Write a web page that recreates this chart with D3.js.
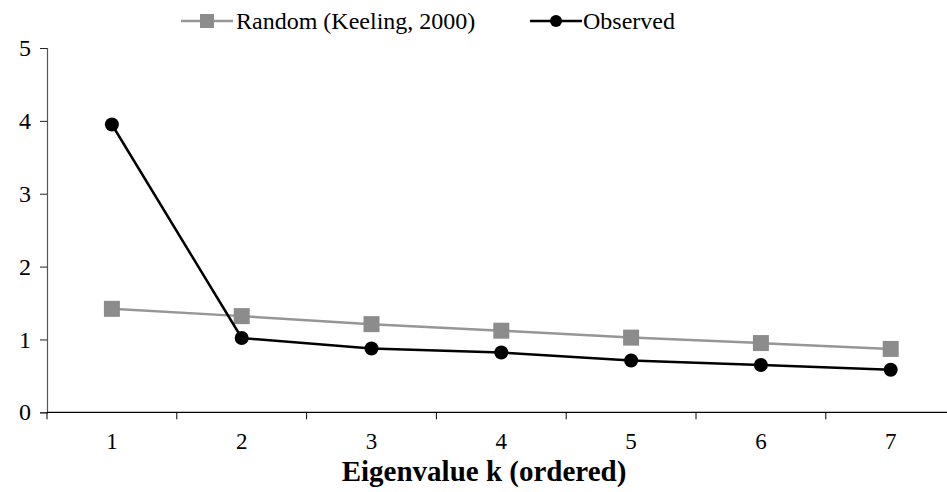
<!DOCTYPE html>
<html>
<head>
<meta charset="utf-8">
<script src="https://cdn.jsdelivr.net/npm/d3@7"></script>
<style>
  body { margin: 0; background: #fff; }
</style>
</head>
<body>
<svg id="chart" width="947" height="492"></svg>
<script>
// eigenvalues
let categories = ["1", "2", "3", "4", "5", "6", "7"];
let randomVals = [1.42, 1.32, 1.21, 1.12, 1.025, 0.95, 0.87];
let observedVals = [3.95, 1.02, 0.875, 0.82, 0.71, 0.65, 0.585];
let yTicks = [0, 1, 2, 3, 4, 5];

let serif = "'Liberation Serif', 'Times New Roman', serif";
let svg = d3.select("#chart");
let margin = {left: 47, top: 48};
let plotW = 908.6, plotH = 364.3;

let xScale = d3.scaleBand().domain(categories).range([margin.left, margin.left + plotW]);
let yScale = d3.scaleLinear().domain([0, 5]).range([margin.top + plotH, margin.top]);
let cx = d => xScale(d) + xScale.bandwidth() / 2;

// y axis
let yAxis = svg.append("g").attr("transform", `translate(${margin.left},0)`)
    .call(d3.axisLeft(yScale).tickValues(yTicks).tickSize(7).tickPadding(9).tickFormat(d3.format("d")));
yAxis.attr("font-family", serif);
yAxis.select(".domain").attr("stroke", "#555").attr("stroke-width", 1.2);
yAxis.selectAll(".tick line").attr("stroke", "#222");
yAxis.selectAll("text").attr("font-family", serif).style("font-family", serif)
    .style("font-size", "24px").attr("fill", "#000");

// x axis, ticks sit between categories
let xAxis = svg.append("g").attr("transform", `translate(0,${yScale(0)})`);
xAxis.append("line")
    .attr("x1", margin.left).attr("x2", margin.left + plotW)
    .attr("stroke", "#000").attr("stroke-width", 1.3);
xAxis.selectAll(".tk")
    .data(categories.concat(["end"]))
    .enter().append("line")
    .attr("x1", (d, i) => margin.left + i * xScale.bandwidth())
    .attr("x2", (d, i) => margin.left + i * xScale.bandwidth())
    .attr("y1", 0).attr("y2", 7)
    .attr("stroke", "#000");
xAxis.selectAll(".lbl")
    .data(categories)
    .enter().append("text")
    .attr("x", d => cx(d))
    .attr("y", 37)
    .attr("text-anchor", "middle")
    .style("font-family", serif)
    .style("font-size", "23px")
    .text(d => d);

svg.append("text")
    .attr("x", 484).attr("y", 481)
    .attr("text-anchor", "middle")
    .style("font-family", serif)
    .style("font-size", "29px").style("font-weight", "bold")
    .text("Eigenvalue k (ordered)");

let line = d3.line().x((d, i) => cx(categories[i])).y(d => yScale(d));

// random series
svg.append("path").datum(randomVals)
    .attr("d", line).attr("fill", "none")
    .attr("stroke", "#969696").attr("stroke-width", 2.5);
svg.selectAll(".sq").data(randomVals).enter().append("rect")
    .attr("x", (d, i) => cx(categories[i]) - 8)
    .attr("y", d => yScale(d) - 8)
    .attr("width", 16).attr("height", 16)
    .attr("fill", "#8c8c8c");

// observed series
svg.append("path").datum(observedVals)
    .attr("d", line).attr("fill", "none")
    .attr("stroke", "#000").attr("stroke-width", 2.5);
svg.selectAll(".dot").data(observedVals).enter().append("circle")
    .attr("cx", (d, i) => cx(categories[i]))
    .attr("cy", d => yScale(d))
    .attr("r", 7)
    .attr("fill", "#000");

// legend
let lg = svg.append("g").style("font-family", serif).style("font-size", "24px");
lg.append("line").attr("x1", 181).attr("x2", 233).attr("y1", 21).attr("y2", 21)
    .attr("stroke", "#969696").attr("stroke-width", 2.5);
lg.append("rect").attr("x", 200).attr("y", 14).attr("width", 14).attr("height", 14).attr("fill", "#8c8c8c");
lg.append("text").attr("x", 236).attr("y", 29).text("Random (Keeling, 2000)");
lg.append("line").attr("x1", 530).attr("x2", 582).attr("y1", 21).attr("y2", 21)
    .attr("stroke", "#000").attr("stroke-width", 2.5);
lg.append("circle").attr("cx", 556).attr("cy", 21).attr("r", 6).attr("fill", "#000");
lg.append("text").attr("x", 583).attr("y", 29).text("Observed");
</script>
</body>
</html>
